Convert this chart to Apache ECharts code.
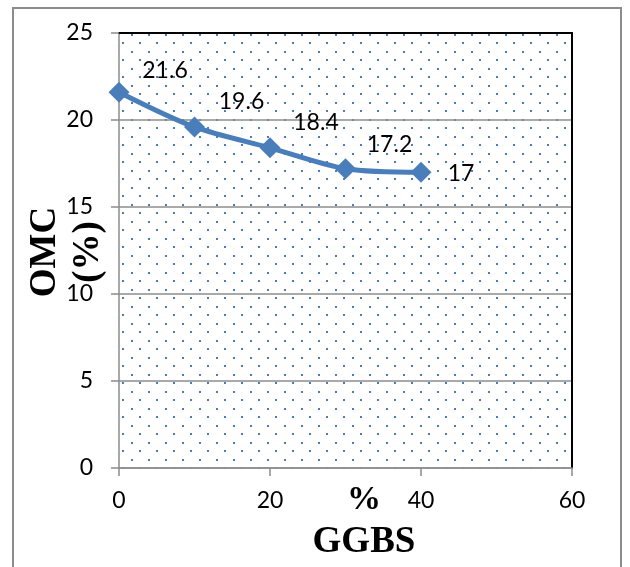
<!DOCTYPE html>
<html><head><meta charset="utf-8">
<script src="https://cdn.jsdelivr.net/npm/echarts@6/dist/echarts.min.js"></script>
<style>html,body{margin:0;padding:0;background:#fff}#c{width:630px;height:567px}</style>
</head><body><div id="c"></div><script>
// ---- data ----
const ggbs = [0, 10, 20, 30, 40];
const omc = [21.6, 19.6, 18.4, 17.2, 17];
const xTicks = [0, 20, 40, 60];
const yTicks = [0, 5, 10, 15, 20, 25];
const yTitle = ['OMC', '(%)'];
const xTitle = ['%', 'GGBS'];
// label placement styling (pixel offsets from each marker)
const labelOffsets = [[46, -22], [47, -25], [46, -25], [44, -24], [40, 1]];

const BLUE = '#4A7EBB';
const GRAY = '#8c8c8c';
const NUMFONT = 'Lato';

function makePattern() {
  const c = document.createElement('canvas');
  c.width = 17; c.height = 17;
  const g = c.getContext('2d');
  g.fillStyle = BLUE;
  g.fillRect(12, 0, 2, 2);
  g.fillRect(3, 8, 2, 2);
  return c;
}

const chart = echarts.init(document.getElementById('c'), null, {renderer: 'canvas'});
const xStep = xTicks[1] - xTicks[0];
const yStep = yTicks[1] - yTicks[0];

chart.setOption({
  animation: false,
  backgroundColor: '#fff',
  grid: {
    left: 119, right: 58, top: 33, bottom: 99,
    show: true,
    backgroundColor: {image: makePattern(), repeat: 'repeat'},
    borderWidth: 0
  },
  xAxis: [{
    type: 'value', position: 'bottom',
    min: xTicks[0], max: xTicks[xTicks.length - 1], interval: xStep,
    axisLine: {show: true, onZero: false, lineStyle: {color: GRAY, width: 1.5}},
    axisTick: {show: true, length: 8, lineStyle: {color: GRAY, width: 1.5}},
    axisLabel: {color: '#000', fontFamily: NUMFONT, fontSize: 23, margin: 21},
    splitLine: {show: false}
  }, {
    type: 'value', position: 'top',
    min: xTicks[0], max: xTicks[xTicks.length - 1], interval: xStep,
    axisLine: {show: true, onZero: false, lineStyle: {color: '#000', width: 2}},
    axisTick: {show: false}, axisLabel: {show: false}, splitLine: {show: false}
  }],
  yAxis: [{
    type: 'value', position: 'left',
    min: yTicks[0], max: yTicks[yTicks.length - 1], interval: yStep,
    axisLine: {show: true, onZero: false, lineStyle: {color: GRAY, width: 1.5}},
    axisTick: {show: true, length: 8, lineStyle: {color: GRAY, width: 1.5}},
    axisLabel: {color: '#000', fontFamily: NUMFONT, fontSize: 23, margin: 26},
    splitLine: {show: true, lineStyle: {color: GRAY, width: 1.5}}
  }, {
    type: 'value', position: 'right',
    min: yTicks[0], max: yTicks[yTicks.length - 1], interval: yStep,
    axisLine: {show: true, onZero: false, lineStyle: {color: '#000', width: 2}},
    axisTick: {show: false}, axisLabel: {show: false}, splitLine: {show: false}
  }],
  series: [{
    type: 'line',
    xAxisIndex: 0, yAxisIndex: 0,
    data: ggbs.map((x, i) => ({value: [x, omc[i]], label: {offset: labelOffsets[i]}})),
    smooth: 0.3,
    clip: false,
    symbol: 'diamond',
    symbolSize: 21,
    lineStyle: {color: BLUE, width: 5},
    itemStyle: {color: BLUE},
    label: {
      show: true, position: 'inside', color: '#000',
      fontFamily: NUMFONT, fontSize: 23,
      formatter: p => String(p.value[1])
    },
    emphasis: {disabled: true},
    z: 5
  }],
  graphic: [
    {type: 'rect', silent: true, shape: {x: 13, y: 8, width: 608, height: 620},
     style: {fill: 'none', stroke: GRAY, lineWidth: 2}},
    {type: 'text', silent: true, x: 45.5, y: 252, rotation: Math.PI / 2,
     style: {text: yTitle[0], font: 'bold 37px "Liberation Serif"', fill: '#000', textAlign: 'center', textVerticalAlign: 'middle'}},
    {type: 'text', silent: true, x: 88, y: 252, rotation: Math.PI / 2,
     style: {text: yTitle[1], font: 'bold 37px "Liberation Serif"', fill: '#000', textAlign: 'center', textVerticalAlign: 'middle'}},
    {type: 'text', silent: true, x: 364, y: 500,
     style: {text: xTitle[0], font: 'bold 34px "Liberation Serif"', fill: '#000', textAlign: 'center', textVerticalAlign: 'middle'}},
    {type: 'text', silent: true, x: 364, y: 542,
     style: {text: xTitle[1], font: 'bold 37px "Liberation Serif"', fill: '#000', textAlign: 'center', textVerticalAlign: 'middle'}}
  ]
});
</script></body></html>
